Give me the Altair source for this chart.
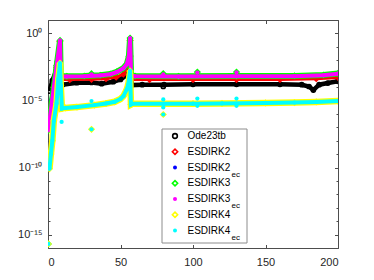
import altair as alt
import pandas as pd

# ---------------- series definitions ----------------
series_names = ["Ode23tb", "ESDIRK2", "ESDIRK2ec", "ESDIRK3", "ESDIRK3ec", "ESDIRK4", "ESDIRK4ec"]
legend_main = ["Ode23tb", "ESDIRK2", "ESDIRK2", "ESDIRK3", "ESDIRK3", "ESDIRK4", "ESDIRK4"]
legend_sub = ["", "", "ec", "", "ec", "", "ec"]
colors = ["#000000", "#ff0000", "#0000ff", "#00ff00", "#ff00ff", "#ffff00", "#00ffff"]
shapes = ["circle", "diamond", "circle", "diamond", "circle", "diamond", "circle"]
filled = [False, False, True, False, True, False, True]
line_widths = [4.5, 3.0, 3.0, 6.0, 4.0, 6.5, 4.0]

# ---------------- curve values ----------------
t_ode23tb = [0.9, 3.0, 5.9, 7.2, 7.8, 10, 20, 30, 37, 45, 50, 55, 56.8, 57.6, 65, 80, 100, 130, 160, 175, 180, 183, 187, 193, 200]
e_ode23tb = [5e-5, 3e-4, 2e-3, 2.5e-3, 1.5e-4, 1.5e-4, 2.1e-4, 2.2e-4, 1.8e-4, 2.5e-4, 3.7e-4, 8.7e-4, 2e-2, 1.4e-4,
             1.5e-4, 1.5e-4, 1.6e-4, 1.6e-4, 1.6e-4, 1.5e-4, 1.1e-4, 6e-5, 1.5e-4, 2e-4, 2.7e-4]

t_esdirk2 = [0.3, 2, 4, 6, 8.2, 8.8, 15, 30, 40, 47, 52, 54.5, 56.6, 57.5, 70, 100, 130, 160, 185, 200]
e_esdirk2 = [1e-7, 3e-6, 1e-4, 3e-3, 2.5e-1, 3.6e-4, 3.6e-4, 3.8e-4, 4.2e-4, 5.5e-4, 9e-4, 2.5e-3, 3e-1, 3.6e-4,
             3.6e-4, 3.6e-4, 3.6e-4, 3.7e-4, 4.2e-4, 5.2e-4]

t_esdirk2ec = [0.2, 2, 4, 6, 8.2, 8.8, 13, 25, 36, 47.4, 52, 54.3, 56.4, 57.3, 60, 90, 130, 170, 190, 200]
e_esdirk2ec = [2e-7, 1e-5, 4e-4, 8e-3, 1.5e-1, 5.5e-4, 5.5e-4, 5.8e-4, 6.8e-4, 1.2e-3, 2.3e-3, 4.5e-3, 2e-1, 6.4e-4,
               5.8e-4, 5.5e-4, 5.8e-4, 6e-4, 7e-4, 9.2e-4]

t_esdirk3 = [0.2, 2, 4, 6, 8.3, 8.8, 13, 25, 36, 43, 47.4, 52, 54.3, 55.8, 56.6, 57.3, 60, 90, 130, 170, 190, 200]
e_esdirk3 = [6e-8, 2e-6, 9e-5, 4e-3, 3e-1, 6.3e-4, 6.3e-4, 6.6e-4, 7.6e-4, 9.4e-4, 1.35e-3, 2.6e-3, 5e-3, 2e-2, 4.5e-1,
             7.2e-4, 6.6e-4, 6.3e-4, 6.6e-4, 6.8e-4, 7.8e-4, 1.05e-3]

t_esdirk3ec = [0.2, 2, 4, 6, 8.3, 8.8, 13, 25, 36, 43, 47.4, 52, 54.3, 55.8, 56.6, 57.3, 60, 90, 130, 170, 190, 200]
e_esdirk3ec = [6e-8, 2e-6, 9e-5, 4e-3, 3e-1, 6e-4, 6e-4, 6.3e-4, 7.4e-4, 9e-4, 1.3e-3, 2.5e-3, 4.9e-3, 2e-2, 4.5e-1,
               7e-4, 6.3e-4, 6e-4, 6.3e-4, 6.5e-4, 7.5e-4, 1e-3]

t_esdirk4 = [1.0, 2.0, 3.0, 4.0, 5.9, 7.1, 8.3, 8.8, 9.6, 12, 20, 32, 40, 46, 50, 52, 54.3, 55.4, 56.6, 57.2, 58,
             80, 100, 120, 150, 170, 185, 200]
e_esdirk4 = [8e-11, 1e-9, 1e-8, 3e-7, 6e-6, 4e-4, 6e-3, 1.3e-4, 2.5e-6, 2.8e-6, 3.2e-6, 4.5e-6, 6e-6, 8e-6, 1.3e-5,
             2.1e-5, 6.6e-5, 1.6e-4, 1.6e-3, 5e-6, 5.6e-6, 5.6e-6, 5.8e-6, 6e-6, 6.5e-6, 7e-6, 7.8e-6, 9e-6]

t_esdirk4ec = [1.0, 2.0, 3.0, 4.0, 5.9, 7.1, 8.3, 8.8, 9.6, 12, 20, 32, 40, 46, 50, 52, 54.3, 55.4, 56.6, 57.2, 58,
               80, 100, 120, 150, 170, 185, 200]
e_esdirk4ec = [8e-11, 1e-9, 1e-8, 3e-7, 6e-6, 4e-4, 6e-3, 1.3e-4, 2.5e-6, 2.8e-6, 3.2e-6, 4.5e-6, 6e-6, 8e-6, 1.3e-5,
               2.1e-5, 6.6e-5, 1.6e-4, 1.6e-3, 5e-6, 5.6e-6, 5.6e-6, 5.8e-6, 6e-6, 6.5e-6, 7e-6, 7.8e-6, 9e-6]

curve_t = [t_ode23tb, t_esdirk2, t_esdirk2ec, t_esdirk3, t_esdirk3ec, t_esdirk4, t_esdirk4ec]
curve_e = [e_ode23tb, e_esdirk2, e_esdirk2ec, e_esdirk3, e_esdirk3ec, e_esdirk4, e_esdirk4ec]

# ---------------- isolated markers ----------------
dot_series = ["ESDIRK3", "ESDIRK4", "ESDIRK4ec", "ESDIRK4ec",
              "ESDIRK3", "ESDIRK3ec", "ESDIRK4ec", "ESDIRK4", "ESDIRK4ec",
              "Ode23tb", "ESDIRK3", "ESDIRK3ec", "ESDIRK4ec", "ESDIRK4ec", "ESDIRK4", "ESDIRK4ec",
              "ESDIRK3", "ESDIRK3ec", "ESDIRK4ec", "ESDIRK4ec",
              "ESDIRK3", "ESDIRK3ec", "ESDIRK4ec", "ESDIRK4ec"]
dot_t = [0.2, 0.2, 0.2, 9.4,
         30, 30, 30, 30, 30,
         79.5, 79.5, 79.5, 79.5, 79.5, 79.5, 79.5,
         103, 103, 103, 103,
         130, 130, 130, 130]
dot_e = [2e-16, 2e-16, 2e-16, 2.5e-7,
         1e-3, 9e-4, 9e-6, 7e-8, 7e-8,
         1.1e-4, 1e-3, 9e-4, 1.2e-5, 3e-6, 9e-7, 9e-7,
         1.3e-3, 1.2e-3, 1.4e-5, 4e-6,
         1.3e-3, 1.25e-3, 1.4e-5, 4e-6]

# ---------------- axis ticks ----------------
x_tick_values = [0, 50, 100, 150, 200]
y_tick_values = [1, 1e-5, 1e-10, 1e-15]
y_tick_labels = ["10⁰", "10⁻⁵", "10⁻¹⁰", "10⁻¹⁵"]
y_minor_values = [1e1, 1e0, 1e-1, 1e-2, 1e-3, 1e-4, 1e-5, 1e-6, 1e-7, 1e-8, 1e-9, 1e-10,
                  1e-11, 1e-12, 1e-13, 1e-14, 1e-15, 1e-16]

W, H = 290, 228
AX = "#4d4d4d"
FONT = "Liberation Sans"

rows = []
for s, ts, es in zip(series_names, curve_t, curve_e):
    for t, e in zip(ts, es):
        rows.append({"series": s, "t": t, "err": e, "kind": "curve"})
for s, t, e in zip(dot_series, dot_t, dot_e):
    rows.append({"series": s, "t": t, "err": e, "kind": "dot"})
df = pd.DataFrame(rows)

label_expr = ""
for v, lab in zip(y_tick_values, y_tick_labels):
    label_expr += f"datum.value >= {v / 10} ? '{lab}' : "
label_expr += "''"

major_test = " || ".join(f"abs(datum.value / {v} - 1) < 0.01" for v in y_tick_values)
tick_size_cond = {"condition": {"test": major_test, "value": 3.5}, "value": 2}

xs = alt.Scale(domain=[0, 200], nice=False, zero=False)
ys = alt.Scale(type="log", domain=[1e-16, 10], nice=False)

axis_sets = {
    0: (alt.Axis(orient="bottom", values=x_tick_values, ticks=False, tickSize=0, domain=False, grid=False,
                 labelPadding=8, labelFontSize=11, labelColor="#262626", labelFont=FONT, title=None),
        alt.Axis(orient="left", values=y_tick_values, ticks=False, tickSize=0, domain=False, grid=False,
                 labelExpr=label_expr, labelPadding=6, labelFontSize=11, labelColor="#262626",
                 labelFont=FONT, title=None)),
    1: (alt.Axis(orient="top", offset=-H, values=x_tick_values, labels=False, domain=False, grid=False,
                 tickSize=3.5, tickColor=AX, title=None),
        alt.Axis(orient="right", offset=-W, values=y_minor_values, labels=False, domain=False, grid=False,
                 tickSize=tick_size_cond, tickColor=AX, title=None)),
    2: (alt.Axis(orient="bottom", offset=-H, values=x_tick_values, labels=False, domain=False, grid=False,
                 tickSize=3.5, tickColor=AX, title=None),
        alt.Axis(orient="left", offset=-W, values=y_minor_values, labels=False, domain=False, grid=False,
                 tickSize=tick_size_cond, tickColor=AX, title=None)),
}

layers = []
for i, s in enumerate(series_names):
    sub = df[df["series"] == s]
    xa, ya = axis_sets.get(i, (None, None))
    line = alt.Chart(sub[sub["kind"] == "curve"]).mark_line(
        color=colors[i], strokeWidth=line_widths[i], clip=True
    ).encode(
        x=alt.X("t:Q", scale=xs, axis=xa),
        y=alt.Y("err:Q", scale=ys, axis=ya),
        order="t:Q",
    )
    pts = alt.Chart(sub).mark_point(
        shape=shapes[i], filled=filled[i], color=colors[i], opacity=1,
        size=26 if shapes[i] == "diamond" else 18, strokeWidth=1.5, clip=True
    ).encode(
        x=alt.X("t:Q", scale=xs, axis=None),
        y=alt.Y("err:Q", scale=ys, axis=None),
    )
    layers += [line, pts]

# ---------------- legend ----------------
leg = pd.DataFrame({"i": list(range(7)), "name": series_names, "main": legend_main, "sub": legend_sub})
ly = alt.Scale(domain=[0, 6], range=[116, 210.5])

box = alt.Chart(pd.DataFrame({"a": [0]})).mark_rect(
    fill="white", stroke="#8c8c8c", strokeWidth=1
).encode(x=alt.value(114), x2=alt.value(199), y=alt.value(109), y2=alt.value(223))
layers.append(box)

for i, s in enumerate(series_names):
    m = alt.Chart(leg[leg["name"] == s]).mark_point(
        shape=shapes[i], filled=filled[i], color=colors[i], opacity=1,
        size=28 if shapes[i] == "diamond" else (22 if not filled[i] else 16), strokeWidth=1.6
    ).encode(x=alt.value(127), y=alt.Y("i:Q", scale=ly, axis=None))
    layers.append(m)

txt = alt.Chart(leg).mark_text(
    align="left", baseline="middle", fontSize=10, font=FONT, color="#000000"
).encode(x=alt.value(139.5), y=alt.Y("i:Q", scale=ly, axis=None), text="main:N")
subt = alt.Chart(leg).mark_text(
    align="left", baseline="middle", fontSize=8, font=FONT, color="#000000", dy=7
).encode(x=alt.value(183.5), y=alt.Y("i:Q", scale=ly, axis=None), text="sub:N")
layers += [txt, subt]

chart = alt.layer(*layers).resolve_scale(
    x="independent", y="independent"
).properties(
    width=W, height=H,
    padding={"left": 40, "top": 12, "right": 28, "bottom": 24},
    autosize=alt.AutoSizeParams(type="none"),
    background="white",
).configure_view(stroke=AX, strokeWidth=1)

chart.save("out.html", embed_options={"renderer": "svg", "actions": False})
